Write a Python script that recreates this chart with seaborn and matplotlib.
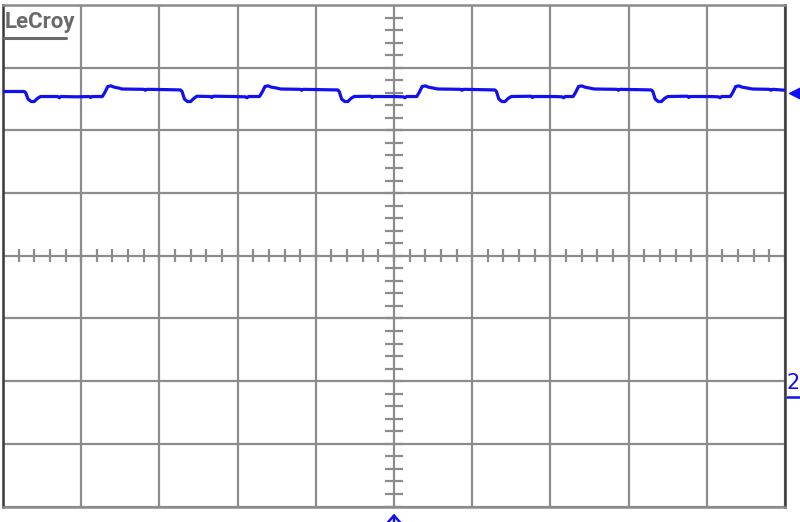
import numpy as np
import pandas as pd
import matplotlib
matplotlib.use("Agg")
import matplotlib.pyplot as plt
from matplotlib.lines import Line2D
import seaborn as sns

# ---- data (time and voltage in screen divisions) ----
time_div = [
    0.00, 0.27, 0.29, 0.32, 0.36, 0.40, 0.44, 0.48, 0.70, 0.72, 0.74, 0.95, 1.10, 1.12, 1.14,
    1.27, 1.30, 1.34, 1.38, 1.42, 1.48, 1.52, 1.80, 1.82, 1.84, 2.10, 2.27,
    2.29, 2.32, 2.36, 2.40, 2.44, 2.48, 2.65, 2.67, 2.69, 2.95, 3.10, 3.12, 3.14,
    3.28, 3.31, 3.35, 3.39, 3.43, 3.50, 3.55, 3.80, 3.82, 3.84, 4.05, 4.28,
    4.30, 4.33, 4.37, 4.41, 4.45, 4.49, 4.70, 4.72, 4.74, 5.00, 5.12, 5.14, 5.16,
    5.29, 5.32, 5.36, 5.40, 5.44, 5.50, 5.56, 5.85, 5.87, 5.89, 6.10, 6.29,
    6.31, 6.34, 6.38, 6.42, 6.46, 6.50, 6.75, 6.77, 6.79, 7.05, 7.15, 7.17, 7.19,
    7.29, 7.32, 7.36, 7.40, 7.44, 7.50, 7.56, 7.85, 7.87, 7.89, 8.10, 8.29,
    8.31, 8.34, 8.38, 8.42, 8.46, 8.50, 8.75, 8.77, 8.79, 9.05, 9.15, 9.17, 9.19,
    9.30, 9.33, 9.37, 9.41, 9.45, 9.52, 9.58, 9.80, 9.82, 9.84, 10.00,
]
volt_div = [
    2.62, 2.62, 2.60, 2.50, 2.46, 2.46, 2.51, 2.54, 2.54, 2.52, 2.54, 2.535, 2.54, 2.525, 2.54,
    2.54, 2.60, 2.70, 2.71, 2.69, 2.675, 2.66, 2.655, 2.64, 2.655, 2.65, 2.645,
    2.62, 2.50, 2.46, 2.46, 2.51, 2.545, 2.54, 2.525, 2.545, 2.54, 2.535, 2.52, 2.54,
    2.54, 2.60, 2.70, 2.71, 2.69, 2.675, 2.66, 2.655, 2.64, 2.655, 2.65, 2.645,
    2.62, 2.50, 2.46, 2.46, 2.51, 2.54, 2.545, 2.525, 2.54, 2.54, 2.535, 2.52, 2.54,
    2.54, 2.60, 2.70, 2.71, 2.69, 2.675, 2.66, 2.655, 2.64, 2.655, 2.65, 2.645,
    2.62, 2.50, 2.46, 2.46, 2.51, 2.54, 2.545, 2.525, 2.54, 2.54, 2.535, 2.52, 2.54,
    2.54, 2.60, 2.70, 2.71, 2.69, 2.675, 2.66, 2.655, 2.64, 2.655, 2.65, 2.645,
    2.62, 2.50, 2.46, 2.46, 2.51, 2.54, 2.545, 2.525, 2.54, 2.54, 2.535, 2.52, 2.54,
    2.54, 2.60, 2.70, 2.71, 2.69, 2.675, 2.66, 2.655, 2.64, 2.655, 2.64,
]
x_grid = list(range(0, 11))      # 10 horizontal divisions
y_grid = list(range(-4, 5))      # 8 vertical divisions
trigger_level = 2.60
channel_offset = -2.05
logo_text = "LeCroy"
channel_label = "2"

df = pd.DataFrame({"t": time_div, "v": volt_div})

sns.set_theme(style="white")
fig = plt.figure(figsize=(8.0, 5.22), dpi=100)
ax = fig.add_axes([3 / 800, 1 - 506.5 / 522, 782 / 800, 501.5 / 522])

grid_c = "#8c8c8c"
ax.set_xlim(0, 10)
ax.set_ylim(-4, 4)
ax.set_xticks(x_grid)
ax.set_yticks(y_grid)
ax.set_xticklabels([])
ax.set_yticklabels([])
ax.tick_params(length=0)
ax.grid(True, color=grid_c, linewidth=1.6)
ax.set_axisbelow(True)
for side, sp in ax.spines.items():
    sp.set_visible(True)
    sp.set_linewidth(1.8)
    sp.set_color("#3a3a3a" if side in ("left", "right") else grid_c)

# minor ticks on centre cross
mx = np.arange(0, 10.001, 0.2)
ax.vlines(mx, -0.1, 0.1, color=grid_c, linewidth=1.6, zorder=1)
my = np.arange(-4, 4.001, 0.2)
ax.hlines(my, 5 - 0.12, 5 + 0.12, color=grid_c, linewidth=1.6, zorder=1)

blue = "#1010f0"
sns.lineplot(data=df, x="t", y="v", estimator=None, sort=False, ax=ax,
             color=blue, linewidth=2.3, zorder=3)
ax.set_xlabel("")
ax.set_ylabel("")

# trigger level marker (right) and trigger position arrow (bottom)
ax.plot([10.13], [trigger_level], marker="<", markersize=9, color=blue,
        clip_on=False, zorder=5)
ax.annotate("", xy=(5, -4.07), xytext=(5, -4.3), xycoords="data",
            arrowprops=dict(arrowstyle="->,head_length=0.45,head_width=0.4",
                            color=blue, lw=1.8), annotation_clip=False)

# channel 2 ground marker
fig.text(787 / 800, 1 - 383 / 522, channel_label, color=blue, fontsize=15,
         ha="left", va="center", family="DejaVu Sans")
fig.add_artist(Line2D([787 / 800, 800 / 800], [1 - 397 / 522, 1 - 397 / 522],
                      color=blue, linewidth=1.8))

# logo
fig.text(5 / 800, 1 - 22 / 522, logo_text, color="#6a6a6a", fontsize=16,
         fontweight="bold", ha="left", va="center", family="Roboto")
fig.add_artist(Line2D([4 / 800, 66 / 800], [1 - 38 / 522, 1 - 38 / 522],
                      color="#6a6a6a", linewidth=2.2))

fig.savefig("out.png", dpi=100, facecolor="white")
